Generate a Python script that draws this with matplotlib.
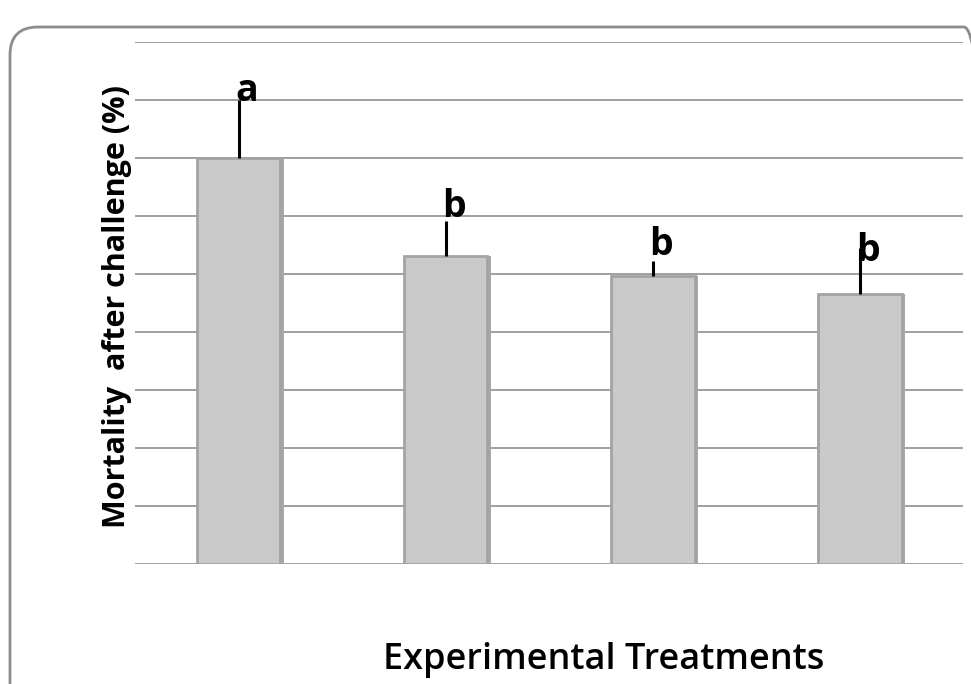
import numpy as np
from matplotlib import pyplot as plt
from matplotlib.patches import FancyBboxPatch
from matplotlib.transforms import IdentityTransform

#### DATA ####
treatments = ['T1', 'T2', 'T3', 'T4']
mortality = [7.0, 5.31, 4.97, 4.65]
errors = [1.0, 0.6, 0.25, 0.8]
letters = ['a', 'b', 'b', 'b']
letter_y = [8.15, 6.15, 5.5, 5.4]

fig = plt.figure(figsize=(9.71, 6.84), dpi=100)
ax = fig.add_axes([0.139, 0.1754, 0.853, 0.7632])

# rounded frame round the chart (pixel coords)
frame = FancyBboxPatch((10, -30), 982, 684 - 27 + 30,
                       boxstyle='round,pad=0,rounding_size=28',
                       transform=IdentityTransform(), fill=False,
                       edgecolor='#8c8c8c', lw=2)
fig.patches.append(frame)

x = np.arange(len(treatments))
ax.set_axisbelow(True)
ax.yaxis.grid(True, color='#8f8f8f', lw=1.2)
ax.bar(x + 0.015, mortality, width=0.405, color='#a8a8a8', zorder=2)  # shadow
ax.bar(x, mortality, width=0.405, color='#c9c9c9', edgecolor='#a3a3a3',
       lw=2, zorder=3)
ax.vlines(x, mortality, np.array(mortality) + np.array(errors),
          color='black', lw=2.2, zorder=4)

for i in range(len(letters)):
    ax.text(x[i] + 0.04, letter_y[i], letters[i], ha='center', va='center',
            fontsize=27, fontweight='bold', family='Open Sans', zorder=5)

ax.set_xlim(-0.5, 3.5)
ax.set_ylim(0, 9)
ax.set_yticks(np.arange(0, 10, 1))
ax.set_xticks([])
ax.tick_params(axis='y', length=0, labelleft=False)
for s in ax.spines.values():
    s.set_visible(False)

fig.text(117/971, 1 - 307/684, 'Mortality  after challenge (%)', rotation=90,
         ha='center', va='center', fontsize=22, fontweight='bold',
         family='Open Sans')
fig.text(604/971, 1 - 660/684, 'Experimental Treatments', ha='center',
         va='center', fontsize=26, family='Open Sans', fontweight='semibold')

plt.savefig('out.png', dpi=100)
